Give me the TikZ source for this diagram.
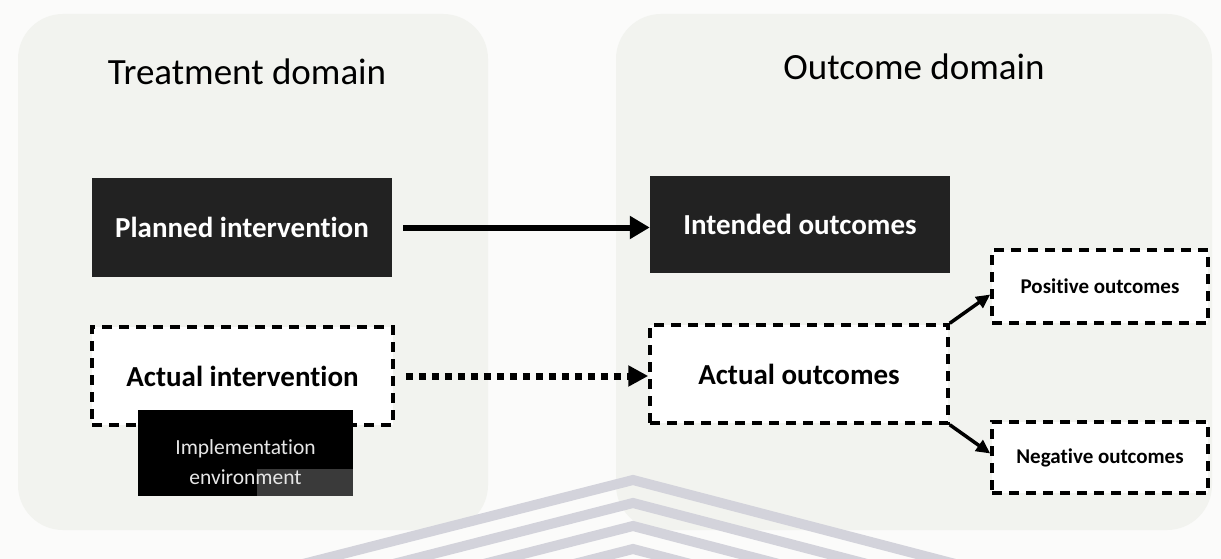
\documentclass[tikz,border=0pt]{standalone}
\usepackage{fontspec}
\setmainfont{Carlito}[Ligatures=NoCommon]
\usetikzlibrary{arrows.meta,calc}

\definecolor{paper}{HTML}{FBFBFA}
\definecolor{panel}{HTML}{F2F3EF}
\definecolor{boxfill}{HTML}{222222}
\definecolor{envpatch}{HTML}{3A3A3A}
\definecolor{envtext}{HTML}{E6E6E6}
\definecolor{wmark}{HTML}{D3D3DB}

\begin{document}
\begin{tikzpicture}[x=1pt,y=-1pt,
  panelbox/.style={fill=panel, rounded corners=45pt},
  domaintitle/.style={font=\fontsize{37}{44}\selectfont, text=black, inner sep=0pt},
  darkbox/.style={fill=boxfill, text=white, inner sep=0pt,
    font=\bfseries\fontsize{29}{35}\selectfont},
  dashbox/.style={draw=black, fill=white, line width=3.5pt,
    dash pattern=on 10pt off 7pt, inner sep=0pt,
    font=\bfseries\fontsize{29}{35}\selectfont},
  smallbox/.style={dashbox, font=\bfseries\fontsize{21}{25}\selectfont},
  flow/.style={line width=6pt, -{Triangle[length=20pt,width=22pt]}},
  dotflow/.style={line width=7pt, dash pattern=on 7pt off 6pt,
    -{Triangle[length=20pt,width=20pt]}},
  branch/.style={line width=3.5pt, -{Triangle[length=14pt,width=13pt]}},
  wm/.style={draw=wmark, line width=10pt, miter limit=20}
]
% page and the two domain panels
\useasboundingbox (0,0) rectangle (1221,559);
\fill[paper] (0,0) rectangle (1221,559);
\fill[panelbox] (18,14) rectangle (488,530);
\fill[panelbox] (616,14) rectangle (1212,530);

% faint chevron stripes along the lower edge
\begin{scope}
  \clip (0,0) rectangle (1221,559);
  \foreach \k in {0,1,2,3}
    \draw[wm] (303,{564+23*\k}) -- (633,{480+23*\k}) -- (963,{566+23*\k});
\end{scope}

% domain titles
\node[domaintitle] (ttreat) at (247,72) {Treatment domain};
\node[domaintitle] (toutc) at (914,67) {Outcome domain};

% treatment side
\node[darkbox, minimum width=300pt, minimum height=99pt] (plan) at (242,227.5) {Planned intervention};
\node[dashbox, minimum width=301pt, minimum height=98pt] (actint) at (242.5,376) {Actual intervention};
\node[fill=black, minimum width=215pt, minimum height=86pt, inner sep=0pt] (impl) at (245.5,453) {};
\fill[envpatch] ($(impl.south east)+(-96,-27)$) rectangle (impl.south east);
\node[text=envtext, align=center, font=\fontsize{21.5}{30}\selectfont, inner sep=0pt]
  (impltext) at ($(impl.center)+(0,9)$) {Implementation\\environment};

% outcome side
\node[darkbox, minimum width=300pt, minimum height=97pt] (intend) at (800,224.5) {Intended outcomes};
\node[dashbox, minimum width=298pt, minimum height=98pt] (actout) at (799,374) {Actual outcomes};
\node[smallbox, minimum width=216pt, minimum height=73pt] (pos) at (1100,286.5) {Positive outcomes};
\node[smallbox, minimum width=216pt, minimum height=71pt] (neg) at (1100,457.5) {Negative outcomes};

% connectors
\draw[flow, shorten <=11pt] (plan.east) -- (plan.east -| intend.west);
\draw[dotflow, shorten <=11pt] (actint.east) -- (actint.east -| actout.west);
\draw[branch] (actout.north east) -- ($(pos.west)+(0,8)$);
\draw[branch] (actout.south east) -- ($(neg.west)+(0,-4)$);
\end{tikzpicture}
\end{document}
